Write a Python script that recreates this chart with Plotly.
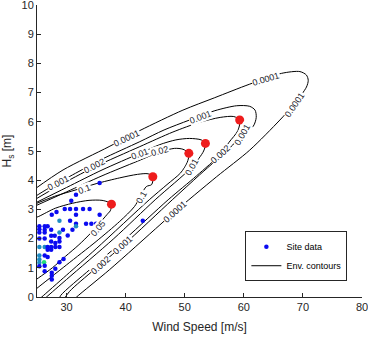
import plotly.graph_objects as go

# contour levels (upper branch -> tip -> lower branch)
levels = ["0.0001", "0.001", "0.002", "0.01", "0.02", "0.1", "0.05"]

c_0001_x = [24.5, 29.4, 37.2, 42.4, 49.7, 55.0, 61.0, 66.4, 69.5, 70.6, 70.9, 70.6,
            68.5, 66.1, 61.0, 55.4, 48.3, 45.8, 37.3, 31.7, 31.2]
c_0001_y = [3.68, 4.35, 5.15, 5.70, 6.40, 6.82, 7.29, 7.66, 7.72, 7.60, 7.42, 7.19,
            6.60, 6.06, 5.03, 4.12, 2.92, 2.47, 0.94, 0.00, -0.1]

c_001_x = [24.5, 27.0, 31.0, 36.0, 42.4, 46.5, 50.8, 55.1, 58.8, 61.0, 61.9, 62.1,
           61.6, 59.3, 58.1, 52.5, 47.9, 39.7, 34.7, 30.5, 29.5]
c_001_y = [3.42, 3.73, 4.18, 4.72, 5.32, 5.72, 6.06, 6.38, 6.55, 6.53, 6.40, 6.15,
           5.85, 5.50, 5.20, 4.18, 3.33, 1.79, 0.94, 0.19, -0.1]

c_002_x = [24.5, 28.6, 34.7, 42.4, 48.0, 52.5, 56.0, 58.3, 59.3,
           59.0, 57.5, 56.1, 52.0, 47.2, 40.0, 34.0, 29.0, 28.7]
c_002_y = [3.32, 3.80, 4.45, 5.15, 5.65, 5.98, 6.15, 6.18, 6.06,
           5.70, 5.30, 4.90, 4.15, 3.33, 2.00, 0.95, 0.05, -0.1]

c_01_x = [24.5, 30.0, 36.0, 42.4, 45.8, 48.5, 50.8, 52.8, 53.5,
          53.2, 51.2, 45.0, 38.0, 30.0, 26.6, 26.0]
c_01_y = [3.20, 3.75, 4.35, 4.92, 5.22, 5.38, 5.43, 5.38, 5.26,
          5.00, 4.45, 3.33, 2.00, 0.60, 0.00, -0.1]

c_02_x = [24.5, 30.0, 36.0, 42.0, 46.0, 48.3, 49.7, 50.7,
          50.4, 49.3, 47.0, 44.0, 35.0, 30.0, 25.8, 25.5]
c_02_y = [3.10, 3.60, 4.15, 4.65, 4.98, 5.09, 5.06, 4.92,
          4.60, 4.25, 3.85, 3.33, 1.65, 0.75, 0.00, -0.05]

c_1_x = [24.5, 28.0, 31.6, 35.0, 39.0, 42.0, 43.8, 44.6,
         44.4, 43.5, 41.5, 39.0, 35.0, 30.0, 25.0, 24.5]
c_1_y = [3.17, 3.45, 3.67, 3.88, 4.08, 4.20, 4.22, 4.12,
         3.85, 3.78, 3.10, 2.59, 1.90, 1.10, 0.30, 0.22]

c_05_x = [24.5, 25.3, 28.1, 31.0, 33.8, 36.0, 37.2, 37.6,
          37.4, 37.05, 34.1, 32.1, 29.8, 27.6, 25.3, 24.5]
c_05_y = [2.70, 2.76, 3.04, 3.21, 3.31, 3.31, 3.24, 3.18,
          2.95, 2.87, 2.19, 1.79, 1.39, 1.00, 0.66, 0.55]

contour_x = [c_0001_x, c_001_x, c_002_x, c_01_x, c_02_x, c_1_x, c_05_x]
contour_y = [c_0001_y, c_001_y, c_002_y, c_01_y, c_02_y, c_1_y, c_05_y]

# design points (red) at contour tips
design_x = [37.6, 44.6, 50.7, 53.5, 59.3]
design_y = [3.18, 4.12, 4.92, 5.26, 6.06]

# site data
site_x = [35.6, 31.6, 30.8, 42.4, 42.9,
          27.5, 28.3, 29.7, 30.6, 31.6, 32.8, 33.9, 35.6, 31.6,
          28.8, 30.6, 31.6, 31.6, 33.3, 34.2, 35.0,
          31.0, 30.2, 29.4, 28.8, 28.8, 28.8, 28.0, 27.4, 26.8, 25.4, 25.4, 26.3, 26.3,
          25.4, 26.3, 25.4, 26.3, 26.8, 27.4, 27.4, 26.8, 28.1, 28.8,
          25.4, 26.3, 26.8, 25.4, 25.4, 26.2, 28.8, 29.5, 25.4, 26.3, 28.1,
          26.3, 27.5, 27.5, 27.5, 25.4, 26.3, 27.4, 27.4, 28.1]
site_y = [3.90, 3.50, 3.30, 3.39, 2.61,
          2.82, 2.91, 3.01, 3.01, 3.01, 3.01, 3.01, 2.82, 2.82,
          2.61, 2.61, 2.51, 2.42, 2.51, 2.51, 2.51,
          2.30, 2.11, 2.30, 2.21, 2.02, 1.90, 2.10, 2.30, 2.42, 2.42, 2.21, 2.21, 2.30,
          2.00, 2.00, 1.71, 1.71, 1.71, 1.71, 1.62, 1.62, 1.71, 1.71,
          1.42, 1.42, 1.37, 1.28, 1.17, 1.19, 1.19, 1.30, 1.05, 1.07, 0.97,
          0.88, 0.83, 0.73, 0.60, 2.32, 2.42, 2.10, 1.90, 1.85]
site_c = ["b", "b", "b", "b", "b",
          "b", "b", "b", "b", "b", "b", "b", "b", "b",
          "t", "b", "b", "t", "b", "b", "b",
          "b", "b", "b", "t", "b", "b", "b", "b", "b", "b", "b", "b", "b",
          "b", "b", "t", "t", "b", "b", "b", "b", "b", "b",
          "t", "b", "b", "t", "t", "g", "b", "b", "b", "b", "b",
          "b", "b", "b", "b", "b", "b", "b", "b", "b"]
palette = {"b": "#0a0af0", "t": "#1d8cc4", "g": "#22e07a"}

# inline contour labels: text, x, y, angle
label_text = ["0.0001", "0.0001", "0.0001", "0.0001", "0.001", "0.001", "0.001", "0.001",
              "0.002", "0.002", "0.002", "0.01", "0.01", "0.02", "0.1", "0.1", "0.05"]
label_x = [40.3, 63.8, 68.6, 48.3, 28.6, 52.7, 59.7, 39.5,
           34.7, 56.1, 35.8, 42.4, 51.2, 45.8, 33.1, 42.7, 35.4]
label_y = [5.43, 7.47, 6.57, 2.92, 3.90, 6.18, 5.55, 1.79,
           4.49, 4.90, 1.11, 4.90, 4.45, 5.00, 3.70, 3.43, 2.37]
label_angle = [-26, -17, -55, -42, -27, -21, -60, -42,
               -27, -42, -42, -20, -60, -15, -20, -60, -50]

fig = go.Figure()
for i, lev in enumerate(levels):
    fig.add_trace(go.Scatter(
        x=contour_x[i], y=contour_y[i], mode="lines",
        line=dict(color="black", width=1, shape="spline", smoothing=0.8),
        name="Env. contours", showlegend=False, hoverinfo="skip"))

fig.add_trace(go.Scatter(
    x=site_x, y=site_y, mode="markers", name="Site data",
    marker=dict(size=4.5, color=[palette[c] for c in site_c]), legendrank=1))
fig.add_trace(go.Scatter(
    x=[None], y=[None], mode="lines", name="Env. contours",
    line=dict(color="black", width=1), legendrank=2))
fig.add_trace(go.Scatter(
    x=design_x, y=design_y, mode="markers", showlegend=False,
    marker=dict(size=9, color="#ee1c1c")))

for t, x, y, a in zip(label_text, label_x, label_y, label_angle):
    fig.add_annotation(x=x, y=y, text=t, textangle=a, showarrow=False,
                       bgcolor="white", borderpad=0,
                       font=dict(family="Liberation Sans, Arial", size=9, color="#1a1a2a"))

axis_style = dict(showgrid=False, zeroline=False, showline=True, linecolor="#262626",
                  linewidth=1, ticks="inside", ticklen=4, tickcolor="#262626",
                  automargin=False, ticklabeloverflow="allow",
                  tickfont=dict(size=11, color="#262626"))
fig.update_xaxes(range=[25, 80], tickvals=[30, 40, 50, 60, 70, 80],
                 title=dict(text="Wind Speed [m/s]", font=dict(size=12, color="#262626"), standoff=10),
                 **axis_style)
fig.update_yaxes(range=[0, 10], tickvals=list(range(11)),
                 title=dict(text="H<sub>s</sub> [m]", font=dict(size=12, color="#262626"), standoff=9),
                 **axis_style)
fig.update_layout(
    width=368, height=338,
    margin=dict(l=37, r=6, t=5, b=41),
    plot_bgcolor="white", paper_bgcolor="white",
    font=dict(family="Liberation Sans, Arial"),
    showlegend=True,
    legend=dict(x=0.955, y=0.054, xanchor="right", yanchor="bottom",
                bordercolor="#262626", borderwidth=1, bgcolor="white",
                itemwidth=30, font=dict(size=9, color="black"), tracegroupgap=0),
)
fig.write_html("out.html", config={"displayModeBar": False},
               post_script="document.body.style.margin='0';")
